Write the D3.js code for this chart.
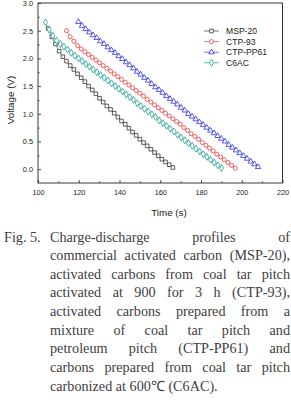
<!DOCTYPE html>
<html>
<head>
<meta charset="utf-8">
<script src="https://cdn.jsdelivr.net/npm/d3@7"></script>
<style>
    body { margin: 0; background: #fff; }
    svg { display: block; }
</style>
</head>
<body>
<div id="chart"></div>
<script>
// Discharge curves: time (s) and voltage (V)
const mspTime = [105.0, 106.8, 108.6, 110.4, 112.2, 114.0, 115.8, 117.6, 119.4, 121.2, 123.0, 124.8, 126.6, 128.4, 130.2, 132.0, 133.8, 135.6, 137.4, 139.2, 141.0, 142.8, 144.6, 146.4, 148.2, 150.0, 151.8, 153.6, 155.4, 157.2, 159.0, 160.8, 162.6, 164.4, 166.2];
const mspVolt = [2.54, 2.39, 2.26, 2.13, 2.03, 1.95, 1.87, 1.80, 1.72, 1.65, 1.58, 1.50, 1.43, 1.36, 1.28, 1.21, 1.14, 1.08, 1.01, 0.94, 0.87, 0.81, 0.74, 0.67, 0.61, 0.54, 0.48, 0.42, 0.36, 0.30, 0.24, 0.18, 0.13, 0.08, 0.03];

const ctp93Time = [114.0, 115.8, 117.6, 119.4, 121.2, 123.0, 124.8, 126.6, 128.4, 130.2, 132.0, 133.8, 135.6, 137.4, 139.2, 141.0, 142.8, 144.6, 146.4, 148.2, 150.0, 151.8, 153.6, 155.4, 157.2, 159.0, 160.8, 162.6, 164.4, 166.2, 168.0, 169.8, 171.6, 173.4, 175.2, 177.0, 178.8, 180.6, 182.4, 184.2, 186.0, 187.8, 189.6, 191.4, 193.2, 195.0, 196.8];
const ctp93Volt = [2.50, 2.39, 2.31, 2.23, 2.17, 2.12, 2.07, 2.02, 1.97, 1.92, 1.87, 1.82, 1.77, 1.72, 1.67, 1.62, 1.57, 1.52, 1.47, 1.42, 1.37, 1.32, 1.26, 1.21, 1.16, 1.11, 1.06, 1.01, 0.96, 0.91, 0.86, 0.81, 0.75, 0.70, 0.64, 0.59, 0.54, 0.48, 0.43, 0.38, 0.33, 0.27, 0.22, 0.17, 0.12, 0.07, 0.02];

const pp61Time = [119.8, 121.6, 123.4, 125.2, 127.0, 128.8, 130.6, 132.4, 134.2, 136.0, 137.8, 139.6, 141.4, 143.2, 145.0, 146.8, 148.6, 150.4, 152.2, 154.0, 155.8, 157.6, 159.4, 161.2, 163.0, 164.8, 166.6, 168.4, 170.2, 172.0, 173.8, 175.6, 177.4, 179.2, 181.0, 182.8, 184.6, 186.4, 188.2, 190.0, 191.8, 193.6, 195.4, 197.2, 199.0, 200.8, 202.6, 204.4, 206.2, 208.0];
const pp61Volt = [2.66, 2.59, 2.53, 2.47, 2.42, 2.37, 2.31, 2.26, 2.20, 2.15, 2.10, 2.04, 1.99, 1.93, 1.88, 1.82, 1.76, 1.71, 1.65, 1.60, 1.54, 1.48, 1.43, 1.38, 1.32, 1.27, 1.22, 1.17, 1.11, 1.06, 1.00, 0.95, 0.90, 0.85, 0.80, 0.75, 0.70, 0.65, 0.60, 0.55, 0.50, 0.44, 0.39, 0.34, 0.29, 0.24, 0.19, 0.14, 0.09, 0.04];

const c6acTime = [103.7, 105.5, 107.3, 109.1, 110.9, 112.7, 114.5, 116.3, 118.1, 119.9, 121.7, 123.5, 125.3, 127.1, 128.9, 130.7, 132.5, 134.3, 136.1, 137.9, 139.7, 141.5, 143.3, 145.1, 146.9, 148.7, 150.5, 152.3, 154.1, 155.9, 157.7, 159.5, 161.3, 163.1, 164.9, 166.7, 168.5, 170.3, 172.1, 173.9, 175.7, 177.5, 179.3, 181.1, 182.9, 184.7, 186.5, 188.3, 190.1];
const c6acVolt = [2.65, 2.52, 2.41, 2.32, 2.26, 2.21, 2.16, 2.10, 2.05, 2.00, 1.95, 1.90, 1.85, 1.80, 1.75, 1.70, 1.65, 1.60, 1.55, 1.50, 1.45, 1.40, 1.35, 1.30, 1.25, 1.19, 1.14, 1.09, 1.04, 0.99, 0.94, 0.88, 0.83, 0.78, 0.73, 0.68, 0.62, 0.57, 0.52, 0.47, 0.42, 0.37, 0.32, 0.27, 0.22, 0.17, 0.12, 0.07, 0.02];

const seriesNames = ["MSP-20", "CTP-93", "CTP-PP61", "C6AC"];
const xTicks = [100, 120, 140, 160, 180, 200, 220];
const yTicks = [0.0, 0.5, 1.0, 1.5, 2.0, 2.5, 3.0];

const captionLines = [
    "Charge-discharge profiles of",
    "commercial activated carbon (MSP-20),",
    "activated carbons from coal tar pitch",
    "activated at 900 for 3 h (CTP-93),",
    "activated carbons prepared from a",
    "mixture of coal tar pitch and",
    "petroleum pitch (CTP-PP61) and",
    "carbons prepared from coal tar pitch",
    "carbonized at 600\u2103 (C6AC)."
];

const series = [
    { name: seriesNames[0], time: mspTime, volt: mspVolt, color: "#333333", symbol: d3.symbolSquare, size: 13 },
    { name: seriesNames[1], time: ctp93Time, volt: ctp93Volt, color: "#ee3b3b", symbol: d3.symbolCircle, size: 13 },
    { name: seriesNames[2], time: pp61Time, volt: pp61Volt, color: "#2f2fe6", symbol: d3.symbolTriangle, size: 13 },
    { name: seriesNames[3], time: c6acTime, volt: c6acVolt, color: "#23a094", symbol: d3.symbolDiamond, size: 14 }
];

function drawChart() {
    const W = 291, H = 413;
    const frame = { left: 38, right: 282.5, top: 3, bottom: 183 };

    const svg = d3.select("#chart")
        .append("svg")
        .attr("width", W)
        .attr("height", H);

    const x = d3.scaleLinear().domain([100, 220]).range([frame.left, frame.right]);
    const y = d3.scaleLinear().domain([-0.25, 3.0]).range([frame.bottom, frame.top]);

    const axisFont = "'Liberation Sans', Arial, sans-serif";

    // bottom axis, ticks pointing inside
    const gx = svg.append("g")
        .attr("transform", `translate(0,${frame.bottom})`)
        .call(d3.axisBottom(x).tickValues(xTicks).tickSize(-3).tickSizeOuter(0).tickPadding(7).tickFormat(d3.format("d")));
    gx.selectAll("text").style("font-family", axisFont).style("font-size", "7.3px").attr("fill", "#222");

    svg.append("g")
        .attr("transform", `translate(0,${frame.bottom})`)
        .call(d3.axisBottom(x).tickValues(d3.range(110, 220, 20)).tickSize(-1.6).tickFormat(""))
        .select(".domain").remove();

    const gy = svg.append("g")
        .attr("transform", `translate(${frame.left},0)`)
        .call(d3.axisLeft(y).tickValues(yTicks).tickSize(-3).tickSizeOuter(0).tickPadding(5).tickFormat(d3.format(".1f")));
    gy.selectAll("text").style("font-family", axisFont).style("font-size", "7.3px").attr("fill", "#222");

    svg.append("g")
        .attr("transform", `translate(${frame.left},0)`)
        .call(d3.axisLeft(y).tickValues([0.25, 0.75, 1.25, 1.75, 2.25, 2.75]).tickSize(-1.6).tickFormat(""))
        .select(".domain").remove();

    svg.selectAll(".tick line").attr("stroke", "#222").attr("stroke-width", 0.8);
    svg.selectAll(".domain").remove();

    // plot frame
    svg.append("rect")
        .attr("x", frame.left)
        .attr("y", frame.top)
        .attr("width", frame.right - frame.left)
        .attr("height", frame.bottom - frame.top)
        .attr("fill", "none")
        .attr("stroke", "#222")
        .attr("stroke-width", 0.9);

    const line = d3.line()
        .x(d => x(d.t))
        .y(d => y(d.v));

    series.forEach(s => {
        const pts = s.time.map((t, i) => ({ t: t, v: s.volt[i] }));
        const g = svg.append("g");
        g.append("path")
            .datum(pts)
            .attr("d", line)
            .attr("fill", "none")
            .attr("stroke", s.color)
            .attr("stroke-width", 0.6);
        g.selectAll("path.pt")
            .data(pts)
            .join("path")
            .attr("class", "pt")
            .attr("transform", d => `translate(${x(d.t)},${y(d.v)})`)
            .attr("d", d3.symbol().type(s.symbol).size(s.size))
            .attr("fill", "#fff")
            .attr("stroke", s.color)
            .attr("stroke-width", 0.8);
    });

    // legend
    const legend = svg.append("g");
    series.forEach((s, i) => {
        const ly = 31 + i * 10.6;
        legend.append("line")
            .attr("x1", 204).attr("x2", 219)
            .attr("y1", ly).attr("y2", ly)
            .attr("stroke", s.color)
            .attr("stroke-width", 0.7);
        legend.append("path")
            .attr("transform", `translate(211.5,${ly})`)
            .attr("d", d3.symbol().type(s.symbol).size(s.size))
            .attr("fill", "#fff")
            .attr("stroke", s.color)
            .attr("stroke-width", 0.8);
        legend.append("text")
            .attr("x", 226)
            .attr("y", ly + 3)
            .style("font-family", axisFont)
            .style("font-size", "8.6px")
            .attr("fill", "#222")
            .text(s.name);
    });

    // axis titles
    svg.append("text")
        .attr("x", 169)
        .attr("y", 215.5)
        .attr("text-anchor", "middle")
        .style("font-family", axisFont)
        .style("font-size", "9.8px")
        .attr("fill", "#222")
        .text("Time (s)");

    svg.append("text")
        .attr("transform", "rotate(-90)")
        .attr("x", -100)
        .attr("y", 14)
        .attr("text-anchor", "middle")
        .style("font-family", axisFont)
        .style("font-size", "9.8px")
        .attr("fill", "#222")
        .text("Voltage (V)");

    // caption, justified like the journal layout
    const capFont = "'Liberation Serif', 'Times New Roman', serif";
    const capLeft = 50, capRight = 290, capTop = 241.5, capStep = 18.65;
    const cap = svg.append("g")
        .style("font-family", capFont)
        .style("font-size", "14.2px")
        .attr("fill", "#404040");

    cap.append("text").attr("x", 4).attr("y", capTop).text("Fig. 5.");

    captionLines.forEach((ln, i) => {
        const by = capTop + i * capStep;
        const words = ln.split(" ");
        if (i === captionLines.length - 1) {
            cap.append("text").attr("x", capLeft).attr("y", by).text(ln);
            return;
        }
        const nodes = words.map(w => cap.append("text").attr("y", by).text(w));
        const widths = nodes.map(n => n.node().getComputedTextLength());
        const gap = (capRight - capLeft - d3.sum(widths)) / (words.length - 1);
        let cx = capLeft;
        nodes.forEach((n, j) => {
            n.attr("x", cx);
            cx += widths[j] + gap;
        });
    });
}

drawChart();
</script>
</body>
</html>
